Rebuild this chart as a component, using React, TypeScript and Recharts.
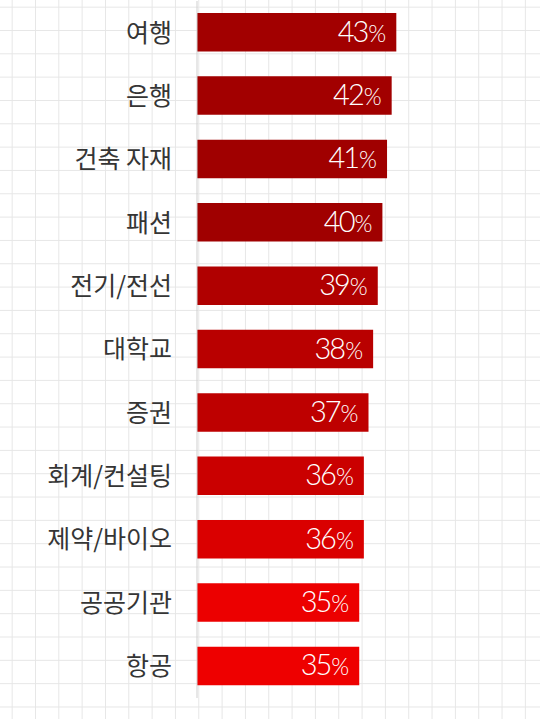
import React from 'react';
import { BarChart, Bar, XAxis, YAxis, Cell, LabelList } from 'recharts';

const categories = ['여행', '은행', '건축 자재', '패션', '전기/전선', '대학교', '증권', '회계/컨설팅', '제약/바이오', '공공기관', '항공'];
const values = [43, 42, 41, 40, 39, 38, 37, 36, 36, 35, 35];
const barColors = ['#a20000', '#a20000', '#a00000', '#a00000', '#b00000', '#b90000', '#be0000', '#ca0000', '#da0000', '#ec0000', '#ee0000'];

const data = categories.map((name, i) => ({ name, value: values[i] }));

const ValueLabel = (props: any) => {
  const { x, y, width, height, value } = props;
  const right = Number(x) + Number(width) - 10;
  const baseline = Number(y) + Number(height) / 2 + 9.5;
  return (
    <text
      x={right}
      y={baseline}
      textAnchor="end"
      fill="#ffffff"
      fontFamily="Lato, 'Noto Sans', sans-serif"
      fontWeight={300}
    >
      <tspan fontSize={29} letterSpacing={-2}>{value}</tspan>
      <tspan fontSize={23} dx={1}>%</tspan>
    </text>
  );
};

export default function App() {
  const step = 70 / 3;
  return (
    <div
      style={{
        position: 'fixed',
        left: 0,
        top: 0,
        width: 540,
        height: 719,
        backgroundColor: '#ffffff',
        backgroundImage:
          'linear-gradient(to right, #e6e6e6 1px, transparent 1px), linear-gradient(to bottom, #e6e6e6 1px, transparent 1px)',
        backgroundSize: `${step}px ${step}px`,
        backgroundPosition: `${35 / 3}px ${20 / 3}px`,
      }}
    >
      <BarChart
        width={540}
        height={719}
        data={data}
        layout="vertical"
        margin={{ top: 1, right: 0, bottom: 21, left: 0 }}
        barSize={38.5}
      >
        <XAxis type="number" domain={[0, 74]} hide />
        <YAxis
          type="category"
          dataKey="name"
          width={197}
          tickLine={false}
          tickSize={0}
          tickMargin={25}
          axisLine={{ stroke: '#cfcfcf', strokeWidth: 1 }}
          tick={{ fill: '#353535', fontSize: 25, fontFamily: "'Noto Sans CJK KR', sans-serif" }}
          interval={0}
        />
        <Bar dataKey="value" isAnimationActive={false}>
          {data.map((d, i) => (
            <Cell key={d.name} fill={barColors[i]} />
          ))}
          <LabelList dataKey="value" content={ValueLabel} />
        </Bar>
      </BarChart>
    </div>
  );
}
